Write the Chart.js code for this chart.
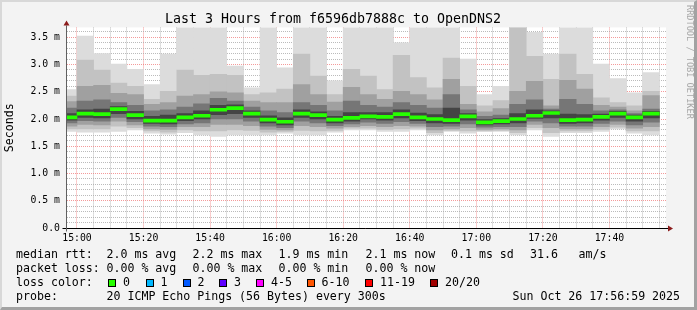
<!DOCTYPE html>
<html>
<head>
<meta charset="utf-8">
<script src="https://cdn.jsdelivr.net/npm/chart.js@4.4.1/dist/chart.umd.min.js"></script>
<style>
    html, body { margin: 0; padding: 0; background: #f3f3f3; overflow: hidden; }
    #wrap { position: relative; width: 697px; height: 310px; background: #f3f3f3; }
    #chart { position: absolute; left: 0; top: 0; }
    .leg { position: absolute; font-family: 'DejaVu Sans Mono', monospace; font-size: 11.6px; line-height: 14px; color: #000; white-space: pre; }
    .box { position: absolute; width: 8px; height: 8px; border: 1px solid #000; box-sizing: border-box; }
    #credit { position: absolute; left: 684px; top: 5px; width: 11px; line-height: 11px; writing-mode: vertical-rl;
              font-family: 'DejaVu Sans Mono', monospace; font-size: 8.6px; color: #a8a8a8; white-space: pre; }
    #frame { position: absolute; left: 0; top: 0; width: 697px; height: 310px; box-sizing: border-box; pointer-events: none;
             border-top: 2px solid #d8d8d8; border-left: 2px solid #d8d8d8; border-right: 3px solid #a2a2a2; border-bottom: 3px solid #a2a2a2; }
</style>
</head>
<body>
<div id="wrap">
    <canvas id="chart" width="697" height="310"></canvas>
    <div id="credit">RRDTOOL / TOBI OETIKER</div>
    <div id="frame"></div>
</div>
<script>
// Start of each 5 minute step
const times = ['14:55', '15:00', '15:05', '15:10', '15:15', '15:20', '15:25', '15:30', '15:35', '15:40',
    '15:45', '15:50', '15:55', '16:00', '16:05', '16:10', '16:15', '16:20', '16:25', '16:30',
    '16:35', '16:40', '16:45', '16:50', '16:55', '17:00', '17:05', '17:10', '17:15', '17:20',
    '17:25', '17:30', '17:35', '17:40', '17:45', '17:50'];

// Smoke bands (ms), outer to inner
const pingMax = [2.54, 3.52, 3.20, 3.01, 2.91, 2.63, 3.19, 3.80, 3.80, 3.80, 2.97, 2.57, 3.80, 2.94, 3.80, 3.80, 2.70, 3.80,
    3.80, 3.80, 3.40, 3.80, 3.80, 3.80, 3.10, 2.45, 2.60, 3.95, 3.59, 3.19, 3.80, 3.80, 3.01, 2.74, 2.48, 2.85];
const bandU1 = [2.42, 3.08, 2.90, 2.66, 2.60, 2.36, 2.51, 2.90, 2.80, 2.82, 2.80, 2.45, 2.48, 2.55, 3.19, 2.79, 2.45, 2.91,
    2.79, 2.54, 3.17, 2.76, 2.57, 3.12, 2.60, 2.24, 2.34, 3.80, 3.15, 2.73, 3.19, 2.82, 2.39, 2.30, 2.24, 2.51];
const bandU2 = [2.32, 2.60, 2.62, 2.47, 2.45, 2.27, 2.30, 2.42, 2.45, 2.50, 2.48, 2.33, 2.30, 2.30, 2.63, 2.45, 2.31, 2.58,
    2.45, 2.36, 2.51, 2.45, 2.35, 2.73, 2.27, 2.13, 2.19, 2.51, 2.69, 2.24, 2.71, 2.55, 2.25, 2.22, 2.15, 2.43];
const bandU3 = [2.20, 2.33, 2.35, 2.30, 2.25, 2.15, 2.17, 2.22, 2.28, 2.38, 2.33, 2.22, 2.15, 2.12, 2.30, 2.25, 2.15, 2.33,
    2.25, 2.22, 2.30, 2.25, 2.20, 2.45, 2.17, 2.05, 2.07, 2.27, 2.35, 2.18, 2.36, 2.27, 2.15, 2.17, 2.10, 2.18];
const bandU4 = [2.10, 2.17, 2.18, 2.23, 2.14, 2.05, 2.07, 2.10, 2.15, 2.25, 2.26, 2.15, 2.06, 2.02, 2.17, 2.13, 2.05, 2.12,
    2.12, 2.12, 2.17, 2.11, 2.08, 2.20, 2.10, 1.99, 2.01, 2.10, 2.17, 2.15, 2.09, 2.08, 2.09, 2.14, 2.07, 2.14];
const medianRtt = [2.03, 2.10, 2.09, 2.18, 2.07, 1.97, 1.97, 2.03, 2.06, 2.17, 2.20, 2.10, 1.99, 1.95, 2.10, 2.07, 1.99, 2.02,
    2.05, 2.04, 2.09, 2.03, 2.00, 1.98, 2.05, 1.94, 1.96, 2.00, 2.06, 2.11, 1.98, 1.99, 2.04, 2.10, 2.03, 2.10];
const bandL4 = [1.98, 2.03, 2.02, 2.10, 2.00, 1.92, 1.91, 1.97, 2.00, 2.08, 2.10, 2.03, 1.93, 1.89, 2.03, 2.00, 1.93, 1.96,
    2.00, 1.98, 2.02, 1.97, 1.93, 1.92, 1.98, 1.89, 1.91, 1.93, 2.01, 2.02, 1.92, 1.93, 1.98, 2.03, 1.96, 2.02];
const bandL3 = [1.93, 1.97, 1.96, 2.03, 1.95, 1.87, 1.86, 1.91, 1.93, 2.00, 2.00, 1.96, 1.87, 1.84, 1.96, 1.93, 1.88, 1.91,
    1.94, 1.92, 1.95, 1.92, 1.86, 1.87, 1.91, 1.85, 1.86, 1.86, 1.96, 1.93, 1.87, 1.87, 1.92, 1.96, 1.89, 1.94];
const bandL2 = [1.87, 1.90, 1.89, 1.96, 1.89, 1.82, 1.81, 1.86, 1.86, 1.90, 1.90, 1.88, 1.81, 1.80, 1.88, 1.86, 1.83, 1.86,
    1.88, 1.86, 1.88, 1.87, 1.80, 1.82, 1.84, 1.81, 1.82, 1.80, 1.90, 1.84, 1.82, 1.82, 1.86, 1.90, 1.83, 1.86];
const bandL1 = [1.82, 1.82, 1.82, 1.87, 1.84, 1.78, 1.76, 1.80, 1.78, 1.78, 1.80, 1.79, 1.76, 1.77, 1.79, 1.78, 1.79, 1.83,
    1.83, 1.81, 1.82, 1.83, 1.75, 1.79, 1.78, 1.78, 1.79, 1.75, 1.84, 1.75, 1.78, 1.78, 1.81, 1.85, 1.78, 1.78];
const pingMin = [1.77, 1.76, 1.76, 1.77, 1.80, 1.74, 1.72, 1.75, 1.71, 1.68, 1.71, 1.71, 1.71, 1.74, 1.71, 1.71, 1.76, 1.80,
    1.80, 1.77, 1.77, 1.80, 1.71, 1.77, 1.74, 1.77, 1.77, 1.71, 1.80, 1.68, 1.75, 1.75, 1.77, 1.82, 1.74, 1.71];

// Axis labels
const xTickLabels = ['15:00', '15:20', '15:40', '16:00', '16:20', '16:40', '17:00', '17:20', '17:40'];
const yTickLabels = ['0.0', '0.5 m', '1.0 m', '1.5 m', '2.0 m', '2.5 m', '3.0 m', '3.5 m'];
const rangeStart = '14:57';
const rangeEnd = '17:57';
const yMax = 3.68;

// Legend texts
const rttStats = ['2.0 ms avg', '2.2 ms max', '1.9 ms min', '2.1 ms now', '0.1 ms sd', '31.6', 'am/s'];
const lossStats = ['0.00 % avg', '0.00 % max', '0.00 % min', '0.00 % now'];
const lossLabels = ['0', '1', '2', '3', '4-5', '6-10', '11-19', '20/20'];
const lossColors = ['#26ff00', '#00b8ff', '#0059ff', '#5e00ff', '#ff00ff', '#ff5500', '#ff0000', '#a10000'];
const probeText = '20 ICMP Echo Pings (56 Bytes) every 300s';
const stampText = 'Sun Oct 26 17:56:59 2025';

const MONO = "'DejaVu Sans Mono', monospace";
const majorGrid = 'rgba(240, 120, 120, 0.75)';
const minorGrid = 'rgba(170, 170, 170, 0.8)';

// minutes relative to 15:00
function toMin(t) {
    const [h, m] = t.split(':').map(Number);
    return (h - 15) * 60 + m;
}

function bandData(lo, hi) {
    return times.map((t, i) => ({ x: toMin(t) + 2.5, y: [lo[i], hi[i]] }));
}

const bands = [
    { lo: pingMin, hi: pingMax, color: '#dcdcdc' },
    { lo: bandL1, hi: bandU1, color: '#c2c2c2' },
    { lo: bandL2, hi: bandU2, color: '#a0a0a0' },
    { lo: bandL3, hi: bandU3, color: '#767676' },
    { lo: bandL4, hi: bandU4, color: '#444444' }
];

const datasets = bands.map((b, i) => ({
    label: 'smoke' + i,
    data: bandData(b.lo, b.hi),
    backgroundColor: b.color,
    order: bands.length - i
}));
datasets.push({
    label: 'median',
    data: times.map((t, i) => ({ x: toMin(t) + 2.5, y: [medianRtt[i] - 0.028, medianRtt[i] + 0.028] })),
    backgroundColor: lossColors[0],
    order: 0
});

const xLabelAt = {};
xTickLabels.forEach(l => { xLabelAt[toMin(l)] = l; });

// white plot area and outer canvas colour
const plotBackground = {
    id: 'plotBackground',
    beforeDraw(chart) {
        const { ctx, chartArea: a } = chart;
        ctx.save();
        ctx.fillStyle = '#f3f3f3';
        ctx.fillRect(0, 0, chart.width, chart.height);
        ctx.fillStyle = '#ffffff';
        ctx.fillRect(a.left, a.top, a.right - a.left, a.bottom - a.top);
        ctx.restore();
    }
};

// axis lines with arrow heads, rrdtool style
const axisArrows = {
    id: 'axisArrows',
    afterDraw(chart) {
        const { ctx, chartArea: a } = chart;
        const y0 = Math.round(a.bottom) + 0.5;
        const x0 = Math.round(a.left) - 0.5;
        ctx.save();
        ctx.lineWidth = 1;
        ctx.strokeStyle = '#000';
        ctx.beginPath();
        ctx.moveTo(x0 - 4, y0);
        ctx.lineTo(a.right + 2, y0);
        ctx.stroke();
        ctx.strokeStyle = '#606060';
        ctx.beginPath();
        ctx.moveTo(x0, y0 + 3);
        ctx.lineTo(x0, a.top - 2);
        ctx.stroke();
        ctx.fillStyle = '#8c1c1c';
        ctx.beginPath();
        ctx.moveTo(a.right + 2, y0 - 3);
        ctx.lineTo(a.right + 7, y0);
        ctx.lineTo(a.right + 2, y0 + 3);
        ctx.closePath();
        ctx.fill();
        ctx.beginPath();
        ctx.moveTo(x0 - 3, a.top - 2);
        ctx.lineTo(x0, a.top - 7);
        ctx.lineTo(x0 + 3, a.top - 2);
        ctx.closePath();
        ctx.fill();
        ctx.restore();
    }
};

const chart = new Chart(document.getElementById('chart'), {
    type: 'bar',
    data: { datasets },
    options: {
        responsive: false,
        animation: false,
        events: [],
        layout: { padding: { left: 0, right: 31, top: 0.5, bottom: 0 } },
        datasets: {
            bar: { grouped: false, barPercentage: 1, categoryPercentage: 1, borderWidth: 0 }
        },
        plugins: {
            legend: { display: false },
            tooltip: { enabled: false },
            title: {
                display: true,
                text: 'Last 3 Hours from f6596db7888c to OpenDNS2',
                color: '#000',
                font: { family: MONO, size: 13.3, weight: 'normal' },
                padding: { top: 11, bottom: 0 }
            }
        },
        scales: {
            x: {
                type: 'linear',
                min: toMin(rangeStart),
                max: toMin(rangeEnd),
                offset: false,
                z: 1,
                afterBuildTicks: (scale) => {
                    const ticks = [];
                    for (let m = 0; m <= toMin('17:55'); m += 5) ticks.push({ value: m });
                    scale.ticks = ticks;
                },
                afterFit: (scale) => { scale.height = 82; },
                grid: {
                    offset: false,
                    drawTicks: false,
                    lineWidth: 1,
                    color: (c) => (c.tick && xLabelAt[c.tick.value] ? majorGrid : minorGrid)
                },
                border: { display: false, dash: [1, 1] },
                ticks: {
                    autoSkip: false,
                    maxRotation: 0,
                    padding: 5,
                    color: '#000',
                    font: { family: MONO, size: 9.8 },
                    callback: (v) => xLabelAt[v] || ''
                }
            },
            y: {
                min: 0,
                max: yMax,
                z: 1,
                afterBuildTicks: (scale) => {
                    const ticks = [];
                    for (let k = 0; k <= 36; k++) ticks.push({ value: k / 10 });
                    scale.ticks = ticks;
                },
                afterFit: (scale) => { scale.width = 67; },
                grid: {
                    drawTicks: false,
                    lineWidth: 1,
                    color: (c) => (c.tick && Math.round(c.tick.value * 10) % 5 === 0 ? majorGrid : minorGrid)
                },
                border: { display: false, dash: [1, 1] },
                title: {
                    display: true,
                    text: 'Seconds',
                    color: '#000',
                    font: { family: MONO, size: 11.6 },
                    padding: { top: 3, bottom: 0 }
                },
                ticks: {
                    autoSkip: false,
                    padding: 7,
                    color: '#000',
                    font: { family: MONO, size: 9.8 },
                    callback: (v) => {
                        const k = Math.round(v * 10);
                        return k % 5 === 0 ? yTickLabels[k / 5] : '';
                    }
                }
            }
        }
    },
    plugins: [plotBackground, axisArrows]
});

// Legend block below the graph
const wrap = document.getElementById('wrap');
function addText(text, x, top) {
    const d = document.createElement('div');
    d.className = 'leg';
    d.textContent = text;
    d.style.left = x + 'px';
    d.style.top = top + 'px';
    wrap.insertBefore(d, document.getElementById('frame'));
}
function addBox(color, x, top) {
    const d = document.createElement('div');
    d.className = 'box';
    d.style.background = color;
    d.style.left = x + 'px';
    d.style.top = top + 'px';
    wrap.insertBefore(d, document.getElementById('frame'));
}

const rowTop = [247.3, 261.3, 275.3, 289.3];
const rttX = [106.5, 192.5, 278.5, 365.5, 451, 530, 578.5];
const lossX = [106.5, 192.5, 278.5, 365.5];
const boxX = [108, 145.5, 182.5, 219, 256, 306.5, 365, 430];

addText('median rtt:', 16, rowTop[0]);
rttStats.forEach((s, i) => addText(s, rttX[i], rowTop[0]));
addText('packet loss:', 16, rowTop[1]);
lossStats.forEach((s, i) => addText(s, lossX[i], rowTop[1]));
addText('loss color:', 16, rowTop[2]);
lossLabels.forEach((s, i) => {
    addBox(lossColors[i], boxX[i], rowTop[2] + 4);
    addText(s, boxX[i] + 15, rowTop[2]);
});
addText('probe:', 16, rowTop[3]);
addText(probeText, 106.5, rowTop[3]);
addText(stampText, 512.5, rowTop[3]);
</script>
</body>
</html>
